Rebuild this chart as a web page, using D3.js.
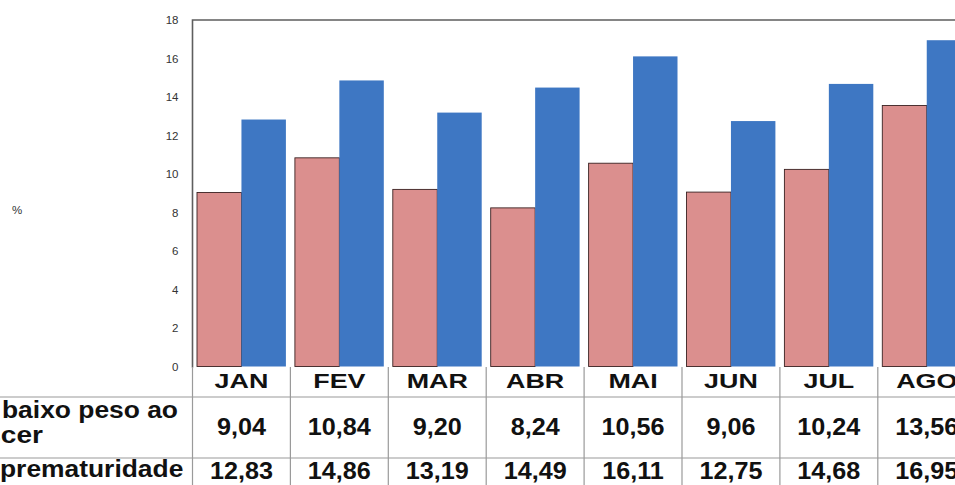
<!DOCTYPE html>
<html>
<head>
<meta charset="utf-8">
<script src="https://cdn.jsdelivr.net/npm/d3@7/dist/d3.min.js"></script>
<style>
  html, body { margin: 0; padding: 0; background: #fff; overflow: hidden; }
  svg { display: block; font-family: "Liberation Sans", Arial, sans-serif; }
</style>
</head>
<body>
<svg id="chart" width="955" height="485"></svg>
<script>
const months = ["JAN", "FEV", "MAR", "ABR", "MAI", "JUN", "JUL", "AGO"];
const seriesNames = ["baixo peso ao nascer", "prematuridade"];
const baixoPeso = [9.04, 10.84, 9.20, 8.24, 10.56, 9.06, 10.24, 13.56];
const prematuridade = [12.83, 14.86, 13.19, 14.49, 16.11, 12.75, 14.68, 16.95];
const yTicks = [0, 2, 4, 6, 8, 10, 12, 14, 16, 18];
const colors = ["#DB8F8E", "#3E77C3"];

(function () {
const svg = d3.select("#chart");
const W = 955, H = 485;
const plotLeft = 192.5, plotTop = 20, plotBottom = 366.5;
const band = 97.9;

const x = d3.scaleBand().domain(months).range([plotLeft, plotLeft + band * months.length]);
const xs = d3.scaleBand().domain(seriesNames).range([4.5, 93.4]);
const y = d3.scaleLinear().domain([0, 18]).range([plotBottom, plotTop]);

const series = [baixoPeso, prematuridade];

// bars
series.forEach((vals, si) => {
  svg.append("g").selectAll("rect").data(months).join("rect")
    .attr("x", (m) => x(m) + xs(seriesNames[si]))
    .attr("y", (m, i) => y(vals[i]))
    .attr("width", xs.bandwidth())
    .attr("height", (m, i) => y(0) - y(vals[i]))
    .attr("fill", colors[si])
    .attr("stroke", si === 0 ? "#3a2222" : "none")
    .attr("stroke-width", 0.9);
});

// plot frame (left + top)
svg.append("path")
  .attr("d", `M${plotLeft},${plotBottom + 1}V${plotTop}H${W + 5}`)
  .attr("fill", "none").attr("stroke", "#5e5e5e").attr("stroke-width", 1.6);

// y axis labels
const yAxis = d3.axisLeft(y).tickValues(yTicks).tickSize(0).tickPadding(14);
const ga = svg.append("g").attr("transform", `translate(${plotLeft},0)`).call(yAxis);
ga.select(".domain").remove();
ga.selectAll("text").attr("font-size", 11.5).attr("fill", "#333")
  .attr("font-family", "'Liberation Sans', Arial, sans-serif");

// % label
svg.append("text").attr("x", 12).attr("y", 214).attr("font-size", 11.5).attr("fill", "#333").text("%");

// table
const tableTop = plotBottom + 0.5, row1 = 397, row2 = 458;
const lines = svg.append("g").attr("stroke", "#9a9a9a").attr("stroke-width", 1.2);
[row1, row2].forEach(r => lines.append("line").attr("x1", 0).attr("x2", W).attr("y1", r).attr("y2", r));
months.forEach(m => lines.append("line").attr("x1", x(m)).attr("x2", x(m)).attr("y1", tableTop).attr("y2", H));
const lastEdge = x(months[months.length - 1]) + band;
lines.append("line").attr("x1", lastEdge).attr("x2", lastEdge).attr("y1", tableTop).attr("y2", H);

function stretched(g, cx, by, txt, size, sx, anchor) {
  g.append("text")
    .attr("transform", `translate(${cx},${by}) scale(${sx},1)`)
    .attr("text-anchor", anchor || "middle")
    .attr("font-size", size).attr("font-weight", "bold").attr("fill", "#111")
    .text(txt);
}

const tg = svg.append("g");
const fmt = v => d3.format(".2f")(v).replace(".", ",");
months.forEach((m, i) => {
  const cx = x(m) + band / 2;
  stretched(tg, cx, 388, m, 21, 1.28);
  stretched(tg, cx, 435, fmt(baixoPeso[i]), 24, 1.05);
  stretched(tg, cx, 479, fmt(prematuridade[i]), 24, 1.05);
});

// row labels (cut at left edge)
stretched(tg, 2, 418, "baixo peso ao", 24, 1.1, "start");
stretched(tg, 43, 443, "nascer", 24, 1.17, "end");
stretched(tg, 0, 477, "prematuridade", 24, 1.1, "start");
})();
</script>
</body>
</html>
